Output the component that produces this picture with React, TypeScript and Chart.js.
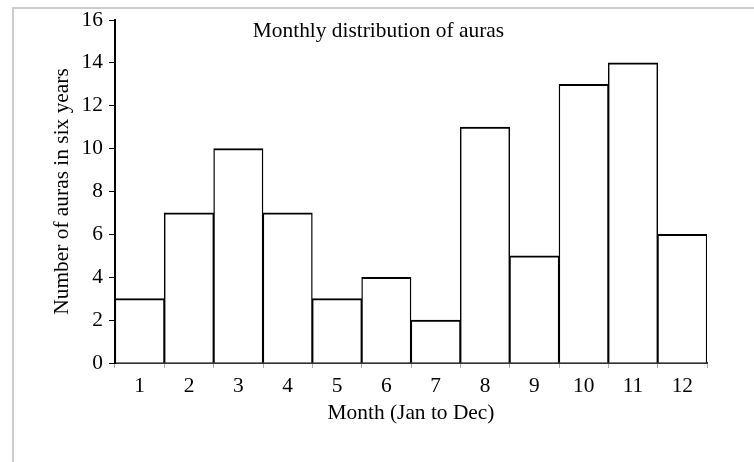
import React, { useEffect, useRef } from "react";
import { Chart, registerables } from "chart.js";

Chart.register(...registerables);

const months = ["1", "2", "3", "4", "5", "6", "7", "8", "9", "10", "11", "12"];
const auras = [3, 7, 10, 7, 3, 4, 2, 11, 5, 13, 14, 6];
const chartTitle = "Monthly distribution of auras";
const xTitle = "Month (Jan to Dec)";
const yTitle = "Number of auras in six years";
const yMin = 0;
const yMax = 16;
const yStep = 2;

const FONT = "'Liberation Serif', 'Times New Roman', serif";
const FS = 21.4;

const titlePlugin = {
  id: "innerTitle",
  afterDraw(chart: any) {
    const { ctx, chartArea } = chart;
    ctx.save();
    ctx.font = `${FS}px ${FONT}`;
    ctx.fillStyle = "#000";
    ctx.textAlign = "center";
    ctx.textBaseline = "alphabetic";
    const cx = chartArea.left + (chartArea.right - chartArea.left) * 0.445;
    ctx.fillText(chartTitle, cx, chartArea.top + 17);
    ctx.restore();
  },
};

export default function App() {
  const ref = useRef<HTMLCanvasElement | null>(null);
  useEffect(() => {
    if (!ref.current) return;
    const chart = new Chart(ref.current, {
      type: "bar",
      data: {
        labels: months,
        datasets: [
          {
            data: auras,
            backgroundColor: "#ffffff",
            borderColor: "#000000",
            borderWidth: { top: 2, left: 1.4, right: 1.4, bottom: 0 },
            borderSkipped: "start",
            categoryPercentage: 1,
            barPercentage: 1,
          },
        ],
      },
      options: {
        animation: false,
        responsive: false,
        maintainAspectRatio: false,
        devicePixelRatio: 1,
        layout: { padding: { left: 0, right: 47, top: 20, bottom: 0 } },
        plugins: {
          legend: { display: false },
          tooltip: { enabled: false },
          title: { display: false },
        },
        scales: {
          x: {
            grid: {
              drawOnChartArea: false,
              drawTicks: true,
              tickLength: 5,
              color: "#aaaaaa",
              offset: true,
            },
            border: { display: true, color: "#333333", width: 2 },
            ticks: {
              color: "#000",
              font: { family: FONT, size: FS },
              padding: 6,
              maxRotation: 0,
            },
            title: {
              display: true,
              text: xTitle,
              color: "#000",
              font: { family: FONT, size: FS },
              padding: { top: 0, bottom: 36 },
            },
            afterFit(scale: any) {
              scale.height = 99;
            },
          },
          y: {
            min: yMin,
            max: yMax,
            ticks: {
              stepSize: yStep,
              color: "#000",
              font: { family: FONT, size: FS },
              padding: 6,
            },
            grid: {
              drawOnChartArea: false,
              drawTicks: true,
              tickLength: 6,
              color: "#000000",
            },
            border: { display: true, color: "#000000", width: 2 },
            title: {
              display: true,
              text: yTitle,
              color: "#000",
              font: { family: FONT, size: FS },
              padding: { top: 50, bottom: 0 },
            },
            afterFit(scale: any) {
              scale.width = 115;
            },
          },
        },
      },
      plugins: [titlePlugin],
    });
    return () => chart.destroy();
  }, []);

  return (
    <div style={{ position: "fixed", left: 0, top: 0, width: 754, height: 462, background: "#fff" }}>
      <canvas ref={ref} width={754} height={462} style={{ position: "absolute", left: 0, top: 0, width: 754, height: 462 }} />
      <div
        style={{
          position: "absolute",
          left: 12,
          top: 7,
          width: 742,
          height: 455,
          borderTop: "2px solid #cccccc",
          borderLeft: "2px solid #cccccc",
          boxSizing: "border-box",
          pointerEvents: "none",
        }}
      />
    </div>
  );
}
